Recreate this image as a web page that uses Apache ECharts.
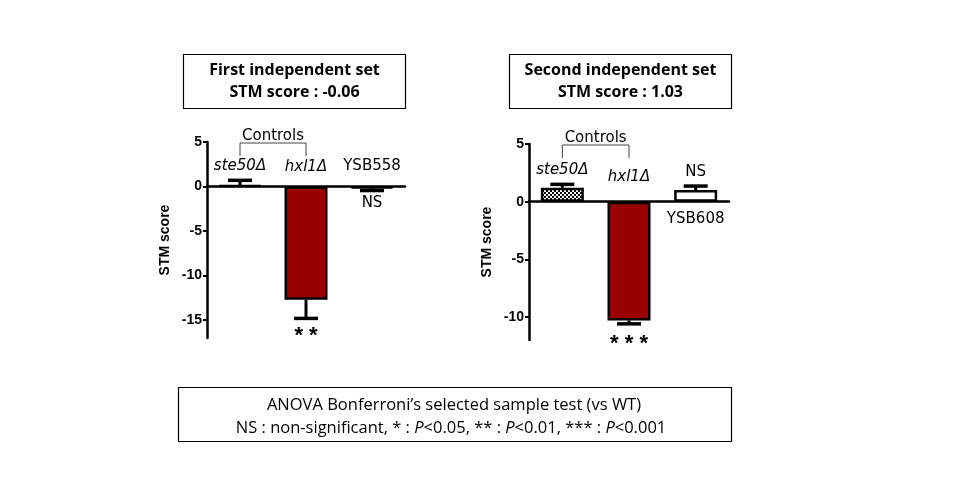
<!DOCTYPE html>
<html>
<head>
<meta charset="utf-8">
<script src="https://cdn.jsdelivr.net/npm/echarts@6/dist/echarts.min.js"></script>
<style>html,body{margin:0;padding:0;background:#fff;}#c{width:960px;height:500px;}</style>
</head>
<body>
<div id="c"></div>
<script>
// ---------- data ----------
const categories1 = ['ste50Δ', 'hxl1Δ', 'YSB558'];
const values1 = [0.1, -12.7, -0.2];
const errors1 = [0.6, 2.1, 0.25];
const significance1 = ['', '**', 'NS'];
const yTicks1 = [-15, -10, -5, 0, 5];
const yRange1 = [-17, 5];

const categories2 = ['ste50Δ', 'hxl1Δ', 'YSB608'];
const values2 = [1.2, -10.3, 1.0];
const errors2 = [0.3, 0.3, 0.35];
const significance2 = ['', '***', 'NS'];
const yTicks2 = [-10, -5, 0, 5];
const yRange2 = [-12, 5];

const setTitles1 = ['First independent set', 'STM score : -0.06'];
const setTitles2 = ['Second independent set', 'STM score : 1.03'];
const controlsLabel = 'Controls';
const axisName = 'STM score';
const footLine1 = 'ANOVA Bonferroni\u2019s selected sample test (vs WT)';
const footLine2 = 'NS : non-significant, * : {i|P}<0.05, ** : {i|P}<0.01, *** : {i|P}<0.001';

// ---------- styles ----------
const RED = '#990000';
const pc = document.createElement('canvas');
pc.width = 4; pc.height = 4;
const pctx = pc.getContext('2d');
pctx.fillStyle = '#fff'; pctx.fillRect(0, 0, 4, 4);
pctx.fillStyle = '#000'; pctx.fillRect(0, 0, 2, 2); pctx.fillRect(2, 2, 2, 2);
const checker = { image: pc, repeat: 'repeat' };
const fills = [['#fff', RED, '#fff'], [checker, RED, '#fff']];

const sets = [
  { cats: categories1, vals: values1, errs: errors1, sig: significance1, ticks: yTicks1, range: yRange1 },
  { cats: categories2, vals: values2, errs: errors2, sig: significance2, ticks: yTicks2, range: yRange2 }
];
const errEnd = (s, i) => s.vals[i] + (s.vals[i] >= 0 ? s.errs[i] : -s.errs[i]);

const chart = echarts.init(document.getElementById('c'), null, { renderer: 'canvas' });

const labelFont = { fontFamily: 'Liberation Sans', fontWeight: 'bold', fontSize: 14, color: '#000' };

const option = {
  animation: false,
  backgroundColor: '#fff',
  grid: [
    { left: 207, top: 142, width: 198, height: 196 },
    { left: 529, top: 144, width: 200, height: 196 }
  ],
  xAxis: sets.map((s, g) => ({
    type: 'category', gridIndex: g, data: s.cats, z: 10,
    axisLine: { onZero: true, lineStyle: { color: '#000', width: 2.5 } },
    axisTick: { alignWithLabel: true, length: 6, lineStyle: { color: '#000', width: 2 } },
    axisLabel: { show: false },
    splitLine: { show: false }
  })),
  yAxis: sets.map((s, g) => ({
    type: 'value', gridIndex: g, min: s.range[0], max: s.range[1],
    axisLine: { show: true, lineStyle: { color: '#000', width: 2.5 } },
    axisTick: { show: true, length: 4, customValues: s.ticks, lineStyle: { color: '#000', width: 2 } },
    axisLabel: Object.assign({ customValues: s.ticks, margin: 5 }, labelFont),
    splitLine: { show: false },
    name: axisName, nameLocation: 'middle', nameGap: 35,
    nameTextStyle: labelFont
  })),
  series: []
};

sets.forEach((s, g) => {
  option.series.push({
    type: 'bar', xAxisIndex: g, yAxisIndex: g, barWidth: 43, z: 2,
    data: s.vals.map((v, i) => ({
      value: v,
      itemStyle: { color: fills[g][i], borderColor: '#000', borderWidth: 2.5 }
    }))
  });
  option.series.push({
    type: 'custom', xAxisIndex: g, yAxisIndex: g, z: 5,
    encode: { x: 0, y: [1, 2] },
    data: s.vals.map((v, i) => [i, v, errEnd(s, i)]),
    renderItem: (params, api) => {
      const a = api.coord([api.value(0), api.value(1)]);
      const b = api.coord([api.value(0), api.value(2)]);
      return {
        type: 'group',
        children: [
          { type: 'line', shape: { x1: a[0], y1: a[1], x2: b[0], y2: b[1] }, style: { stroke: '#000', lineWidth: 3 } },
          { type: 'line', shape: { x1: b[0] - 12, y1: b[1], x2: b[0] + 12, y2: b[1] }, style: { stroke: '#000', lineWidth: 3.5 } }
        ]
      };
    }
  });
});

chart.setOption(option);

// ---------- annotations positioned from the axes ----------
const px = (g, i, v) => chart.convertToPixel({ gridIndex: g }, [i, v]);
const graphics = [];
function txt(x, y, text, extra) {
  graphics.push({
    type: 'text', x: x, y: y, z: 20,
    style: Object.assign({
      text: text, fill: '#000', align: 'center', verticalAlign: 'middle',
      fontFamily: 'DejaVu Sans', fontSize: 15
    }, extra || {})
  });
}
function line(x1, y1, x2, y2, color, w) {
  graphics.push({ type: 'line', z: 20, shape: { x1, y1, x2, y2 }, style: { stroke: color, lineWidth: w } });
}

const layout = [
  [
    { anchor: 'err', dy: -14 },
    { anchor: 'zero', dy: -19 },
    { anchor: 'zero', dy: -20 }
  ],
  [
    { anchor: 'err', dy: -14 },
    { anchor: 'zero', dy: -25 },
    { anchor: 'zero', dy: 17 }
  ]
];
const sigLayout = [
  [null, { dy: 14 }, { dy: 13 }],
  [null, { dy: 16 }, { dy: -14 }]
];
sets.forEach((s, g) => {
  s.cats.forEach((c, i) => {
    const L = layout[g][i];
    const p = px(g, i, L.anchor === 'err' ? errEnd(s, i) : 0);
    const italic = i < 2;
    txt(p[0], p[1] + L.dy, c, italic ? { fontStyle: 'italic' } : {});
    if (s.sig[i]) {
      const q = px(g, i, errEnd(s, i));
      const isStar = s.sig[i].indexOf('*') >= 0;
      const t = isStar ? s.sig[i].split('').join(' ') : s.sig[i];
      txt(q[0], q[1] + sigLayout[g][i].dy + (isStar ? 4 : 0), t,
          isStar ? { fontFamily: 'Liberation Sans', fontWeight: 'bold', fontSize: 22 } : {});
    }
  });
  const a = px(g, 0, s.range[1]);
  const b = px(g, 1, s.range[1]);
  const yb = a[1] + 1;
  line(a[0], yb, b[0], yb, '#444', 1);
  line(a[0], yb, a[0], yb + 13, '#444', 1);
  line(b[0], yb, b[0], yb + 13, '#444', 1);
  txt((a[0] + b[0]) / 2, yb - 7, controlsLabel);
});

function box(x, y, w, h) {
  graphics.push({ type: 'rect', z: 20, shape: { x, y, width: w, height: h },
    style: { fill: '#fff', stroke: '#000', lineWidth: 1.2 } });
}
const titleFont = { fontFamily: 'Open Sans', fontWeight: 'bold', fontSize: 16 };
box(183.5, 54.5, 222, 54);
txt(294.5, 70, setTitles1[0], titleFont);
txt(294.5, 92, setTitles1[1], titleFont);
box(509.5, 54.5, 222, 54);
txt(620.5, 70, setTitles2[0], titleFont);
txt(620.5, 92, setTitles2[1], titleFont);

box(178.5, 387.5, 553, 54);
txt(454, 405, footLine1, { fontFamily: 'Open Sans', fontSize: 16.5 });
txt(451, 428, footLine2, {
  fontFamily: 'Open Sans', fontSize: 16.5,
  rich: { i: { fontFamily: 'Open Sans', fontSize: 16.5, fontStyle: 'italic', fill: '#000' } }
});

chart.setOption({ graphic: graphics });
</script>
</body>
</html>
